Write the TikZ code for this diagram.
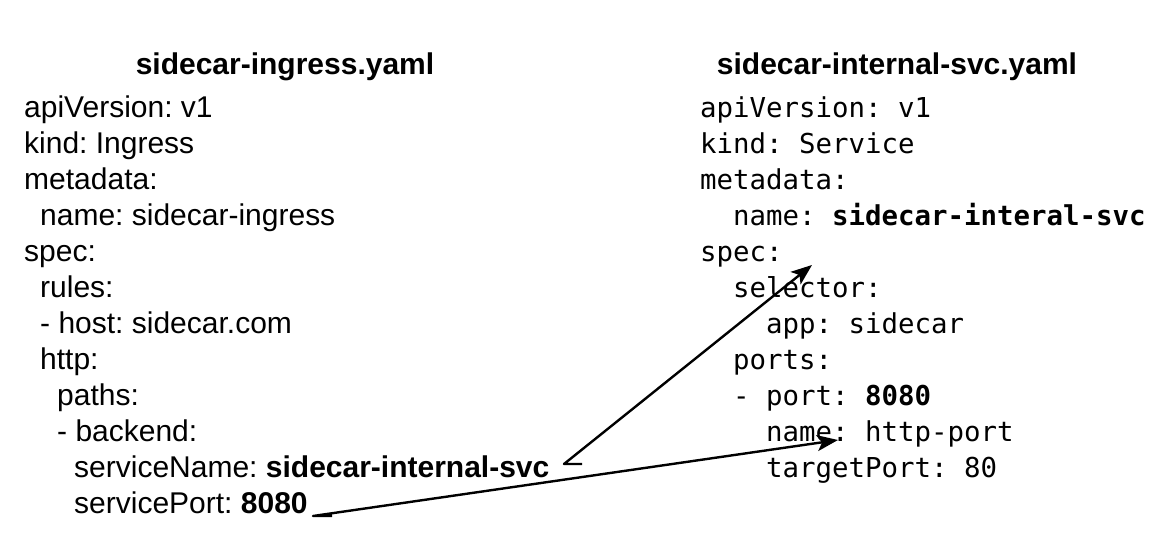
\documentclass[tikz,border=0pt]{standalone}
\usepackage{fontspec}
\usetikzlibrary{arrows.meta}
\newfontfamily\sansfnt{Liberation Sans}
\newfontfamily\monofnt{DejaVu Sans Mono}
\frenchspacing
\tikzset{
  sans/.style={font=\sansfnt\fontsize{30}{36}\selectfont, inner sep=0pt, anchor=base west},
  code/.style={font=\monofnt\fontsize{27.4}{36}\selectfont, inner sep=0pt, anchor=base west},
  ttl/.style={font=\sansfnt\bfseries\fontsize{30}{36}\selectfont, inner sep=0pt, anchor=base},
  link/.style={line width=2.4pt, line join=round, -{Stealth[length=21pt,width=16pt,inset=5pt]}}
}
\begin{document}
\begin{tikzpicture}[x=1pt,y=-1pt]
\useasboundingbox[fill=white] (0,0) rectangle (1159,541);
% titles
\node[ttl] (t1) at (285,74) {sidecar-ingress.yaml};
\node[ttl] (t2) at (897,74) {sidecar-internal-svc.yaml};
% left file
\node[sans] (l1)  at (24,117) {apiVersion: v1};
\node[sans] (l2)  at (24,153) {kind: Ingress};
\node[sans] (l3)  at (24,189) {metadata:};
\node[sans] (l4)  at (40,225) {name: sidecar-ingress};
\node[sans] (l5)  at (24,261) {spec:};
\node[sans] (l6)  at (40,297) {rules:};
\node[sans] (l7)  at (40,333) {- host: sidecar.com};
\node[sans] (l8)  at (40,369) {http:};
\node[sans] (l9)  at (57,405) {paths:};
\node[sans] (l10) at (57,441) {- backend:};
\node[sans] (l11) at (74,477) {serviceName: \textbf{sidecar-internal-svc}};
\node[sans] (l12) at (74,513) {servicePort: \textbf{8080}};
% right file
\node[code] (r1)  at (700,117) {apiVersion: v1};
\node[code] (r2)  at (700,153) {kind: Service};
\node[code] (r3)  at (700,189) {metadata:};
\node[code] (r4)  at (733,225) {name: \textbf{sidecar-interal-svc}};
\node[code] (r5)  at (700,261) {spec:};
\node[code] (r6)  at (733,297) {selector:};
\node[code] (r7)  at (766,333) {app: sidecar};
\node[code] (r8)  at (733,369) {ports:};
\node[code] (r9)  at (733,405) {- port: \textbf{8080}};
\node[code] (r10) at (766,441) {name: http-port};
\node[code] (r11) at (766,477) {targetPort: 80};
% connectors
\coordinate (s1) at (582,464);
\coordinate (e1) at (812,265);
\coordinate (s2) at (332,516);
\coordinate (e2) at (838,440);
\draw[link] (s1) -- ++(-18,0) -- (e1);
\draw[link] (s2) -- ++(-19,0) -- (e2);
\end{tikzpicture}
\end{document}
